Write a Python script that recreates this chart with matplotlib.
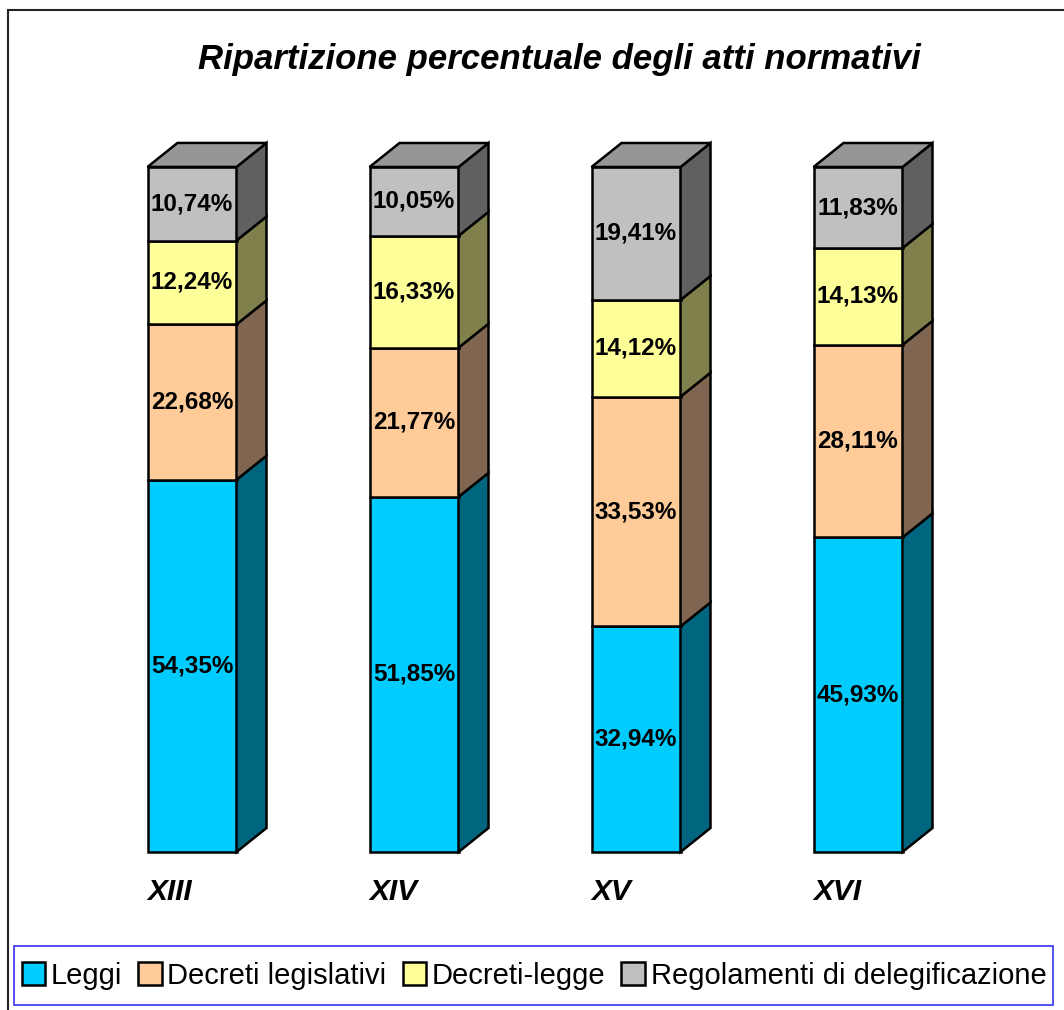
import matplotlib
matplotlib.use("Agg")
import matplotlib.pyplot as plt
from matplotlib.patches import Polygon, Rectangle, Patch

plt.rcParams['font.family'] = ['Liberation Sans', 'DejaVu Sans']

categories = ["XIII", "XIV", "XV", "XVI"]
series_names = ["Leggi", "Decreti legislativi", "Decreti-legge", "Regolamenti di delegificazione"]
leggi = [54.35, 51.85, 32.94, 45.93]
decreti_legislativi = [22.68, 21.77, 33.53, 28.11]
decreti_legge = [12.24, 16.33, 14.12, 14.13]
regolamenti = [10.74, 10.05, 19.41, 11.83]
title = "Ripartizione percentuale degli atti normativi"

series = [leggi, decreti_legislativi, decreti_legge, regolamenti]
front_colors = ["#00CCFF", "#FFCC99", "#FFFF99", "#C0C0C0"]
side_colors = ["#006680", "#806650", "#80804D", "#606060"]
top_color = "#969696"

W, H = 1064, 1010
fig = plt.figure(figsize=(W / 100, H / 100), dpi=100)
ax = fig.add_axes([0, 0, 1, 1])
# pixel mapping: category i centre at 192 + 222*i px; 0% at y=852 px, 100% at y=167 px
xpx0, xstep = 192.0, 222.0
ypx0, yscale = 852.0, 6.85
ax.set_xlim((0 - xpx0) / xstep, (W - xpx0) / xstep)
ax.set_ylim((ypx0 - H) / yscale, (ypx0 - 0) / yscale)
ax.axis('off')

bw = 89 / xstep
dx = 30 / xstep
dy = 24 / yscale
lw = 1.8

for i, cat in enumerate(categories):
    xl = i - bw / 2
    xr = i + bw / 2
    base = 0.0
    for s, vals in enumerate(series):
        v = vals[i]
        top = base + v
        ax.add_patch(Rectangle((xl, base), bw, v, facecolor=front_colors[s],
                               edgecolor='black', lw=lw, zorder=2))
        ax.add_patch(Polygon([(xr, base), (xr + dx, base + dy), (xr + dx, top + dy), (xr, top)],
                             closed=True, facecolor=side_colors[s], edgecolor='black',
                             lw=lw, zorder=2, joinstyle='miter'))
        ax.text(i, base + v / 2, f"{v:.2f}%".replace('.', ','), ha='center', va='center',
                fontsize=17.5, fontweight='bold', color='black', zorder=3)
        base = top
    ax.add_patch(Polygon([(xl, base), (xl + dx, base + dy), (xr + dx, base + dy), (xr, base)],
                         closed=True, facecolor=top_color, edgecolor='black', lw=lw, zorder=2))
    ax.text(xl, (ypx0 - 892) / yscale, cat, ha='left', va='center', fontsize=21.5,
            fontweight='bold', fontstyle='italic', color='black')

fig.text(559 / W, 1 - 60 / H, title, ha='center', va='center', fontsize=25,
         fontweight='bold', fontstyle='italic', color='black')

# outer border
fig.patches.append(Rectangle((8 / W, -0.01), 1.02, 1 - 10 / H + 0.01, transform=fig.transFigure,
                             fill=False, edgecolor='#222222', lw=1.5, figure=fig))

# legend frame
fig.patches.append(Rectangle((14 / W, 1 - 1005 / H), (1053 - 14) / W, (1005 - 946) / H,
                             transform=fig.transFigure, fill=False, edgecolor='#3333EE',
                             lw=1.2, figure=fig))

handles = [Patch(facecolor=c, edgecolor='black', lw=1.8) for c in front_colors]
leg = fig.legend(handles, series_names, loc='center', bbox_to_anchor=(534 / W, 1 - 975.5 / H),
                 ncol=4, fontsize=21, frameon=False, borderpad=0.0,
                 handlelength=0.8, handleheight=0.8, handletextpad=0.2, columnspacing=0.55,
                 borderaxespad=0)

fig.savefig("out.png", dpi=100)
